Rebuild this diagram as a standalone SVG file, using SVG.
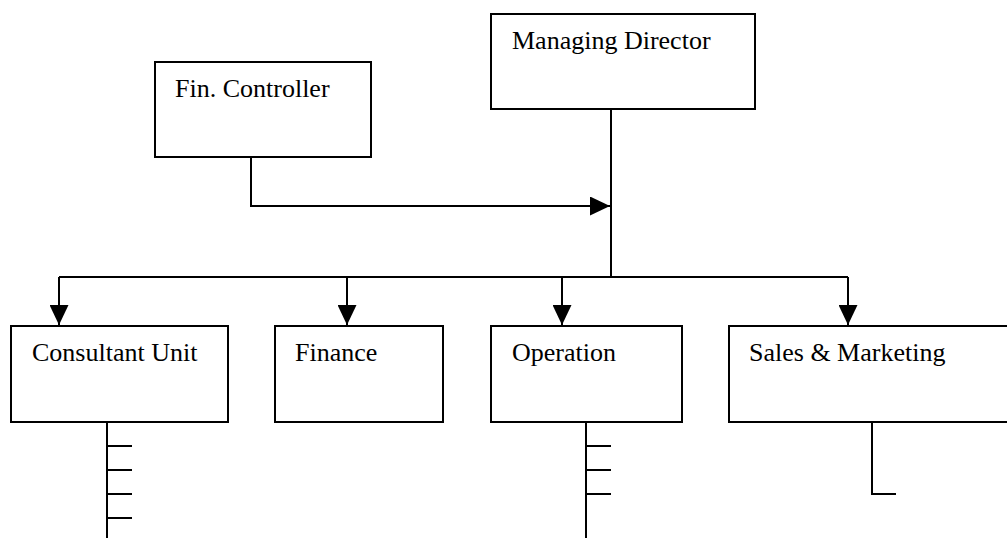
<svg xmlns="http://www.w3.org/2000/svg" width="1007" height="538" viewBox="0 0 1007 538">
<style>
.box{fill:#fff;stroke:#000;stroke-width:2}
.lbl{font-family:"Liberation Serif","Times New Roman",serif;font-size:26px;fill:#000}
.ln{fill:none;stroke:#000;stroke-width:2}
</style>
<defs>
<marker id="ah" markerUnits="userSpaceOnUse" markerWidth="20" markerHeight="19" refX="20" refY="9.5" orient="auto" viewBox="0 0 20 19">
<path d="M0,0 L20,9.5 L0,19 Z" fill="#000"/>
</marker>
</defs>
<rect width="1007" height="538" fill="#fff"/>
<g id="connectors">
<path class="ln" d="M251,157 V206 H610" marker-end="url(#ah)"/>
<path class="ln" d="M611,109 V277"/>
<path class="ln" d="M59,277 H848"/>
<path class="ln" d="M59,277 V325" marker-end="url(#ah)"/>
<path class="ln" d="M347,277 V325" marker-end="url(#ah)"/>
<path class="ln" d="M562,277 V325" marker-end="url(#ah)"/>
<path class="ln" d="M848,277 V325" marker-end="url(#ah)"/>
<path class="ln" d="M107,422 V538 M107,446 H132 M107,470 H132 M107,494 H132 M107,518 H132"/>
<path class="ln" d="M586,422 V538 M586,446 H611 M586,470 H611 M586,494 H611"/>
<path class="ln" d="M872,422 V494 H896"/>
</g>
<g id="fin-controller">
<rect class="box" x="155" y="62" width="216" height="95"/>
<text class="lbl" x="175" y="97">Fin. Controller</text>
</g>
<g id="managing-director">
<rect class="box" x="491" y="14" width="264" height="95"/>
<text class="lbl" x="512" y="49">Managing Director</text>
</g>
<g id="consultant-unit">
<rect class="box" x="11" y="326" width="217" height="96"/>
<text class="lbl" x="32" y="361">Consultant Unit</text>
</g>
<g id="finance">
<rect class="box" x="275" y="326" width="168" height="96"/>
<text class="lbl" x="295" y="361">Finance</text>
</g>
<g id="operation">
<rect class="box" x="491" y="326" width="191" height="96"/>
<text class="lbl" x="512" y="361">Operation</text>
</g>
<g id="sales-marketing">
<rect class="box" x="729" y="326" width="290" height="96"/>
<text class="lbl" x="749" y="361">Sales &amp; Marketing</text>
</g>
</svg>
